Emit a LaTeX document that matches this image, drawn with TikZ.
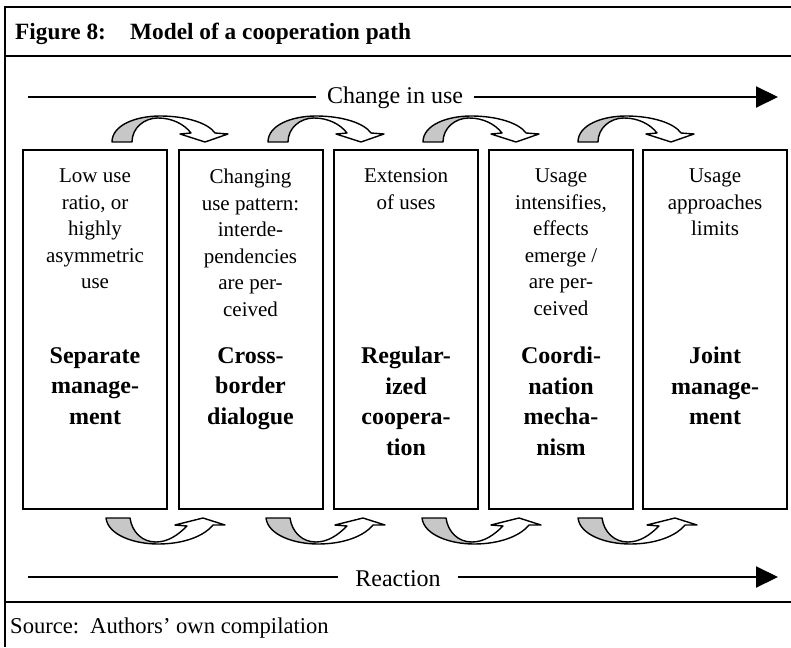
\documentclass[tikz,border=0pt]{standalone}
\usepackage{fontspec}
\setmainfont{Liberation Serif}
\usetikzlibrary{arrows.meta}
\begin{document}
\begin{tikzpicture}[x=1pt,y=-1pt,
  frameline/.style={line width=2pt},
  stagebox/.style={draw, line width=2pt, minimum width=144pt, minimum height=359pt, inner sep=0pt, anchor=north west},
  desctext/.style={anchor=north, align=center, inner sep=0pt, font=\fontsize{21}{26.5}\selectfont},
  stagetext/.style={anchor=north, align=center, inner sep=0pt, font=\fontsize{24}{30.5}\selectfont\bfseries},
  flowline/.style={line width=2pt},
  flowhead/.style={-{Triangle[length=22pt,width=21pt]}},
  flowlabel/.style={anchor=base, inner ysep=0pt, font=\fontsize{24}{28}\selectfont},
  titletext/.style={anchor=base west, inner sep=0pt, font=\fontsize{23.3}{27}\selectfont\bfseries},
  sourcetext/.style={anchor=base west, inner sep=0pt, font=\fontsize{22.6}{26}\selectfont},
  curveline/.style={line width=1.4pt, line join=round},
  backshade/.style={fill=black!22},
  topcurve/.style={insert path={(0,0) .. controls (0,-17) and (24,-26) .. (48,-26) .. controls (74,-26) and (96,-19) .. (103,-9) -- (116,-8) -- (93,0) -- (68,-8) -- (79,-9) .. controls (72,-18) and (60,-24) .. (46,-24) .. controls (32,-24) and (20,-14) .. (20,0) -- cycle}},
  botcurve/.style={insert path={(0,0) .. controls (2,17) and (28,26) .. (52,26) .. controls (78,26) and (98,18) .. (107,7) -- (119,7) -- (97,0) -- (69,7) -- (81,8) .. controls (72,17) and (62,24) .. (50,24) .. controls (36,24) and (26,14) .. (24,0) -- cycle}},
  downcurve/.pic={
    \path[fill=white, topcurve];
    \begin{scope}\clip (-5,-40) rectangle (47,5); \path[backshade, topcurve]; \end{scope}
    \path[draw, curveline, topcurve];
  },
  upcurve/.pic={
    \path[fill=white, botcurve];
    \begin{scope}\clip (-5,-5) rectangle (51,40); \path[backshade, botcurve]; \end{scope}
    \path[draw, curveline, botcurve];
  }
]
\useasboundingbox (0,0) rectangle (791,647);
\fill[white] (0,0) rectangle (791,647);

% frame
\draw[frameline] (5,647) -- (5,6.7) -- (791,6.7);
\draw[frameline] (5,56) -- (791,56);
\draw[frameline] (5,602) -- (791,602);

% title
\node[titletext] (fig) at (15,40) {Figure 8:};
\node[titletext] (tit) at (130,40) {Model of a cooperation path};

% top flow
\coordinate (u1) at (28,97);
\coordinate (u2) at (778,97);
\node[flowlabel, inner xsep=11pt] (cu) at (395,104) {Change in use};
\draw[flowline] (u1) -- (u1 -| cu.west);
\draw[flowline, flowhead] (u2 -| cu.east) -- (u2);

% bottom flow
\coordinate (r1) at (28,577);
\coordinate (r2) at (778,577);
\node[flowlabel, inner xsep=17pt] (re) at (398,586.5) {Reaction};
\draw[flowline] (r1) -- (r1 -| re.west);
\draw[flowline, flowhead] (r2 -| re.east) -- (r2);

% boxes
\node[stagebox] (b1) at (22,149) {};
\node[stagebox] (b2) at (177.5,149) {};
\node[stagebox] (b3) at (333,149) {};
\node[stagebox] (b4) at (488,149) {};
\node[stagebox] (b5) at (642,149) {};

\node[desctext] (d1) at ([yshift=-19.8pt]b1.north) {Low use\\ratio, or\\highly\\asymmetric\\use};
\node[desctext] (d2) at ([yshift=-19.8pt]b2.north) {Changing\\use pattern:\\interde-\\pendencies\\are per-\\ceived};
\node[desctext] (d3) at ([yshift=-19.8pt]b3.north) {Extension\\of uses};
\node[desctext] (d4) at ([yshift=-19.8pt]b4.north) {Usage\\intensifies,\\effects\\emerge /\\are per-\\ceived};
\node[desctext] (d5) at ([yshift=-19.8pt]b5.north) {Usage\\approaches\\limits};

\node[stagetext] (s1) at ([yshift=-198pt]b1.north) {Separate\\manage-\\ment};
\node[stagetext] (s2) at ([yshift=-198pt]b2.north) {Cross-\\border\\dialogue};
\node[stagetext] (s3) at ([yshift=-198pt]b3.north) {Regular-\\ized\\coopera-\\tion};
\node[stagetext] (s4) at ([yshift=-198pt]b4.north) {Coordi-\\nation\\mecha-\\nism};
\node[stagetext] (s5) at ([yshift=-198pt]b5.north) {Joint\\manage-\\ment};

% curved arrows
\pic at (112,142) {downcurve};
\pic at (268,142) {downcurve};
\pic at (423,142) {downcurve};
\pic at (578,142) {downcurve};

\pic at (106,518) {upcurve};
\pic at (266,518) {upcurve};
\pic at (422,518) {upcurve};
\pic at (578,518) {upcurve};

% source
\node[sourcetext] (src) at (10,633) {Source:};
\node[sourcetext] (srct) at (90,633) {Authors’ own compilation};
\end{tikzpicture}
\end{document}
